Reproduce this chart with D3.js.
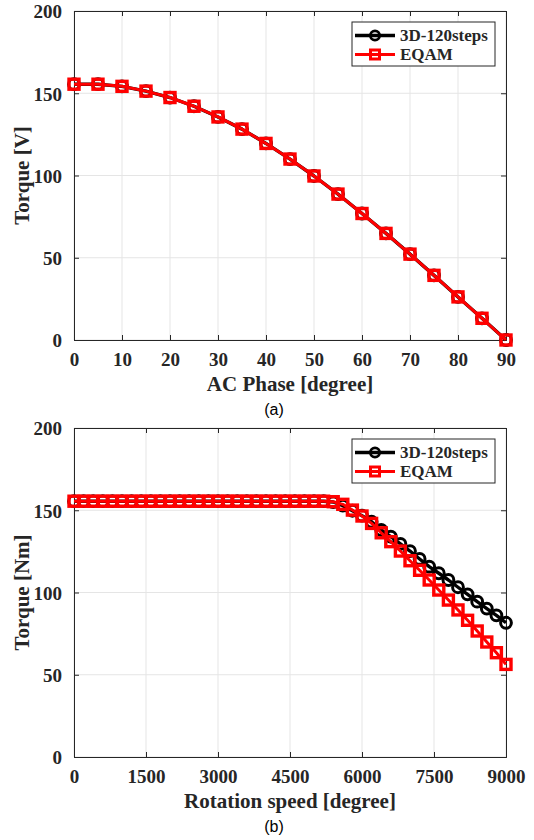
<!DOCTYPE html>
<html>
<head>
<meta charset="utf-8">
<script src="https://cdn.jsdelivr.net/npm/d3@7"></script>
<style>
  html, body { margin: 0; padding: 0; background: #fff; }
  svg { display: block; }
  svg text { font-family: "Liberation Serif", "Times New Roman", serif; }
</style>
</head>
<body>
<svg id="fig" width="534" height="840"></svg>
<script>
// ---- Panel (a): torque vs AC phase ----
const phaseDeg = [0, 5, 10, 15, 20, 25, 30, 35, 40, 45, 50, 55, 60, 65, 70, 75, 80, 85, 90];
const phase3D = [155.5, 155.5, 154.2, 151.3, 147.4, 142.1, 135.6, 128.2, 119.5, 110.0,
                 99.7, 88.7, 76.9, 64.8, 52.2, 39.3, 26.2, 13.2, 0];
const phaseEQAM = [155.5, 155.5, 154.2, 151.3, 147.4, 142.1, 135.6, 128.2, 119.5, 110.0,
                   99.7, 88.7, 76.9, 64.8, 52.2, 39.3, 26.2, 13.2, 0];
const phaseTicks = [0, 10, 20, 30, 40, 50, 60, 70, 80, 90];

// ---- Panel (b): torque vs rotation speed ----
const speedRpm = [0, 200, 400, 600, 800, 1000, 1200, 1400, 1600, 1800, 2000, 2200, 2400, 2600,
                  2800, 3000, 3200, 3400, 3600, 3800, 4000, 4200, 4400, 4600, 4800, 5000, 5200,
                  5400, 5600, 5800, 6000, 6200, 6400, 6600, 6800, 7000, 7200, 7400, 7600, 7800,
                  8000, 8200, 8400, 8600, 8800, 9000];
const speed3D = [155.5, 155.5, 155.5, 155.5, 155.5, 155.5, 155.5, 155.5, 155.5, 155.5,
                 155.5, 155.5, 155.5, 155.5, 155.5, 155.5, 155.5, 155.5, 155.5, 155.5,
                 155.5, 155.5, 155.5, 155.5, 155.5, 155.5, 155.5,
                 155.0, 152.8, 149.7, 146.7, 143.0, 138.0, 133.9, 129.5, 125.2, 120.4,
                 115.7, 111.7, 107.6, 103.2, 98.9, 94.4, 90.2, 86.1, 81.6];
const speedEQAM = [155.5, 155.5, 155.5, 155.5, 155.5, 155.5, 155.5, 155.5, 155.5, 155.5,
                   155.5, 155.5, 155.5, 155.5, 155.5, 155.5, 155.5, 155.5, 155.5, 155.5,
                   155.5, 155.5, 155.5, 155.5, 155.5, 155.5, 155.5,
                   155.2, 153.6, 150.1, 146.5, 142.0, 136.3, 130.9, 125.2, 119.3, 113.5,
                   107.6, 101.5, 95.4, 89.4, 83.1, 76.6, 69.9, 63.4, 56.3];
const speedTicks = [0, 1500, 3000, 4500, 6000, 7500, 9000];

const torqueTicks = [0, 50, 100, 150, 200];
const seriesNames = ["3D-120steps", "EQAM"];

const ink = "#262626";
const serif = "Liberation Serif, Times New Roman, serif";
const svg = d3.select("#fig");

function panel(cfg) {
  const { left, right, top, bottom } = cfg.box;
  const x = d3.scaleLinear().domain(cfg.xDomain).range([left, right]);
  const y = d3.scaleLinear().domain([0, 200]).range([bottom, top]);
  const g = svg.append("g");

  // grid
  g.append("g").selectAll("line").data(cfg.xTicks).join("line")
    .attr("x1", d => x(d)).attr("x2", d => x(d))
    .attr("y1", top).attr("y2", bottom)
    .attr("stroke", "#e5e5e5").attr("stroke-width", 1);
  g.append("g").selectAll("line").data(torqueTicks).join("line")
    .attr("x1", left).attr("x2", right)
    .attr("y1", d => y(d)).attr("y2", d => y(d))
    .attr("stroke", "#e5e5e5").attr("stroke-width", 1);

  // axes with inward ticks on all four sides
  const tl = 5;
  const axB = g.append("g").attr("transform", `translate(0,${bottom})`)
    .call(d3.axisBottom(x).tickValues(cfg.xTicks).tickSize(-tl).tickPadding(tl + 8).tickFormat(d3.format("d")));
  const axT = g.append("g").attr("transform", `translate(0,${top})`)
    .call(d3.axisTop(x).tickValues(cfg.xTicks).tickSize(-tl).tickFormat(""));
  const axL = g.append("g").attr("transform", `translate(${left},0)`)
    .call(d3.axisLeft(y).tickValues(torqueTicks).tickSize(-tl).tickPadding(tl + 7));
  const axR = g.append("g").attr("transform", `translate(${right},0)`)
    .call(d3.axisRight(y).tickValues(torqueTicks).tickSize(-tl).tickFormat(""));
  [axB, axT, axL, axR].forEach(a => {
    a.attr("font-family", serif).attr("font-size", 19).attr("font-weight", "bold");
    a.select(".domain").attr("stroke", ink).attr("stroke-width", 1);
    a.selectAll(".tick line").attr("stroke", ink).attr("stroke-width", 1);
    a.selectAll(".tick text").attr("fill", ink);
  });
  axB.selectAll(".tick text").attr("dy", "0.71em");
  axL.selectAll(".tick text").attr("dy", "0.36em");

  // series
  const line = (xs, ys) => d3.line().x((d, i) => x(xs[i])).y(d => y(d))(ys);
  const cr = 5.4, sq = 10;
  g.append("path").attr("d", line(cfg.xs, cfg.s1))
    .attr("fill", "none").attr("stroke", "#000").attr("stroke-width", 3.4).attr("stroke-linejoin", "round");
  g.append("g").selectAll("circle").data(cfg.s1).join("circle")
    .attr("cx", (d, i) => x(cfg.xs[i])).attr("cy", d => y(d)).attr("r", cr)
    .attr("fill", "none").attr("stroke", "#000").attr("stroke-width", 3);
  g.append("path").attr("d", line(cfg.xs, cfg.s2))
    .attr("fill", "none").attr("stroke", "#ff0000").attr("stroke-width", 3).attr("stroke-linejoin", "round");
  g.append("g").selectAll("rect").data(cfg.s2).join("rect")
    .attr("x", (d, i) => x(cfg.xs[i]) - sq / 2).attr("y", d => y(d) - sq / 2)
    .attr("width", sq).attr("height", sq)
    .attr("fill", "none").attr("stroke", "#ff0000").attr("stroke-width", 3.4);

  // legend
  const lx = 352, lw = 143, ly = top + 11, lh = 44;
  const lg = g.append("g");
  lg.append("rect").attr("x", lx).attr("y", ly).attr("width", lw).attr("height", lh)
    .attr("fill", "#fff").attr("stroke", ink).attr("stroke-width", 1);
  const rows = [ly + 13.5, ly + 32.5];
  lg.append("line").attr("x1", lx + 3).attr("x2", lx + 43).attr("y1", rows[0]).attr("y2", rows[0])
    .attr("stroke", "#000").attr("stroke-width", 3.4);
  lg.append("circle").attr("cx", lx + 23).attr("cy", rows[0]).attr("r", 4.6)
    .attr("fill", "none").attr("stroke", "#000").attr("stroke-width", 2.8);
  lg.append("line").attr("x1", lx + 3).attr("x2", lx + 43).attr("y1", rows[1]).attr("y2", rows[1])
    .attr("stroke", "#ff0000").attr("stroke-width", 3);
  lg.append("rect").attr("x", lx + 23 - 4.5).attr("y", rows[1] - 4.5).attr("width", 9).attr("height", 9)
    .attr("fill", "none").attr("stroke", "#ff0000").attr("stroke-width", 3);
  lg.selectAll("text").data(seriesNames).join("text")
    .attr("x", lx + 48).attr("y", (d, i) => rows[i]).attr("dy", "0.35em")
    .attr("fill", ink).attr("font-family", serif).attr("font-weight", "bold").attr("font-size", 17)
    .text(d => d);

  // axis titles
  g.append("text").attr("x", (left + right) / 2).attr("y", bottom + 51)
    .attr("text-anchor", "middle").attr("fill", ink)
    .attr("font-family", serif).attr("font-weight", "bold").attr("font-size", 21)
    .text(cfg.xLabel);
  g.append("text").attr("transform", `translate(29,${(top + bottom) / 2}) rotate(-90)`)
    .attr("text-anchor", "middle").attr("fill", ink)
    .attr("font-family", serif).attr("font-weight", "bold").attr("font-size", 21)
    .text(cfg.yLabel);
  g.append("text").attr("x", 274).attr("y", bottom + 75)
    .attr("text-anchor", "middle").attr("fill", "#000")
    .style("font-family", "Liberation Sans, Arial, sans-serif").attr("font-size", 16)
    .text(cfg.tag);
}

panel({
  box: { left: 74, right: 506, top: 11, bottom: 340 },
  xDomain: [0, 90], xTicks: phaseTicks,
  xs: phaseDeg, s1: phase3D, s2: phaseEQAM,
  xLabel: "AC Phase [degree]", yLabel: "Torque [V]", tag: "(a)"
});
panel({
  box: { left: 74, right: 506, top: 428, bottom: 757 },
  xDomain: [0, 9000], xTicks: speedTicks,
  xs: speedRpm, s1: speed3D, s2: speedEQAM,
  xLabel: "Rotation speed [degree]", yLabel: "Torque [Nm]", tag: "(b)"
});
</script>
</body>
</html>
